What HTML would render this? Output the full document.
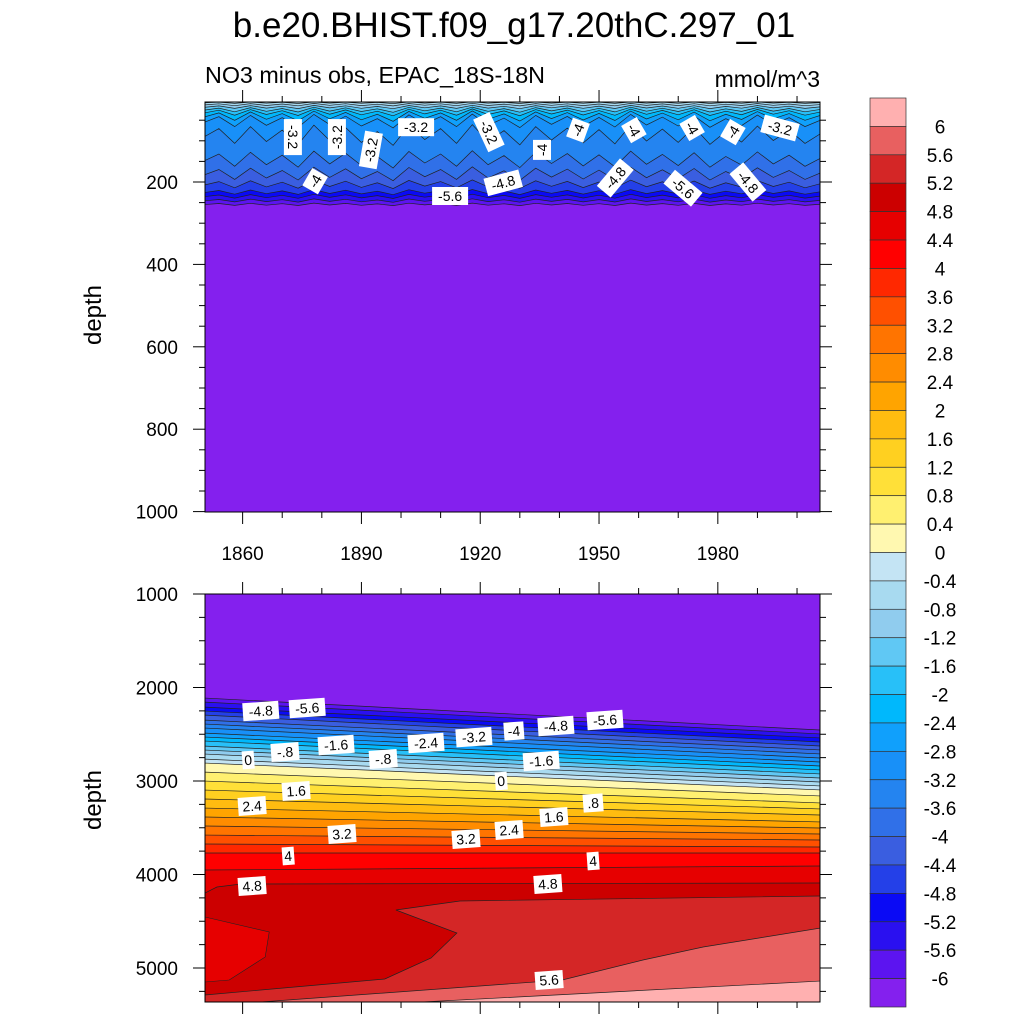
<!DOCTYPE html>
<html><head><meta charset="utf-8">
<style>
html,body{margin:0;padding:0;background:#fff;}
svg{display:block;font-family:"Liberation Sans",sans-serif;}
</style></head>
<body>
<svg id="chart" width="1024" height="1024" viewBox="0 0 1024 1024" xmlns="http://www.w3.org/2000/svg">
<text x="514" y="37" font-size="35" text-anchor="middle">b.e20.BHIST.f09_g17.20thC.297_01</text>
<text x="205" y="83" font-size="23" textLength="340" lengthAdjust="spacingAndGlyphs">NO3 minus obs, EPAC_18S-18N</text>
<text x="820" y="87" font-size="23" text-anchor="end">mmol/m^3</text>
<text transform="translate(101,315) rotate(-90)" font-size="24" text-anchor="middle">depth</text>
<text transform="translate(101,800) rotate(-90)" font-size="24" text-anchor="middle">depth</text>
<defs>
<clipPath id="clipTop"><rect x="205" y="102" width="615" height="410"/></clipPath>
<clipPath id="clipBot"><rect x="205" y="594" width="615" height="408"/></clipPath>
</defs>
<g id="topPlot" clip-path="url(#clipTop)"></g>
<g id="botPlot" clip-path="url(#clipBot)"></g>
<g id="labels"></g>
<g id="axes"></g>
<g id="cbar"></g>
</svg>
<script>
// ---- data ----
const levels = [-6,-5.6,-5.2,-4.8,-4.4,-4,-3.6,-3.2,-2.8,-2.4,-2,-1.6,-1.2,-0.8,-0.4,0,0.4,0.8,1.2,1.6,2,2.4,2.8,3.2,3.6,4,4.4,4.8,5.2,5.6,6];
const colors = ["#8420ee","#5c14f0","#2a10f0","#0a0af5","#2440e8","#3a5ee0","#3070e8","#2484f0","#1890f8","#10a0fc","#00b8fc","#28c0f8","#60c8f4","#90ccee","#a8daf0","#c4e4f4","#fff8b0","#fff070","#ffe038","#ffd020","#ffbc10","#ffa400","#ff8c00","#ff7400","#ff5000","#ff2800","#ff0000","#e60000","#cc0000","#d42626","#e86060","#ffb0b0"];
const cbarLabels = ["6","5.6","5.2","4.8","4.4","4","3.6","3.2","2.8","2.4","2","1.6","1.2","0.8","0.4","0","-0.4","-0.8","-1.2","-1.6","-2","-2.4","-2.8","-3.2","-3.6","-4","-4.4","-4.8","-5.2","-5.6","-6"];
const xTicks = [1860,1890,1920,1950,1980];
const topDepthTicks = [200,400,600,800,1000];
const botDepthTicks = [1000,2000,3000,4000,5000];
const topLevels = [-6,-5.6,-5.2,-4.8,-4.4,-4,-3.6,-3.2,-2.8,-2.4,-2,-1.6,-1.2,-0.8,-0.4];
const topBaseDepth = [255,246,236,226,208,184,150,92,56,43,33,26,19,13,8];
const topWiggleAmp = [0.15,0.2,0.25,0.3,0.5,0.8,1.0,1.2,0.8,0.6,0.4,0.3,0.2,0.15,0.1];
const wiggleYears = [1850,1854,1858,1862,1866,1870,1874,1878,1882,1886,1890,1894,1898,1902,1906,1910,1914,1918,1922,1926,1930,1934,1938,1942,1946,1950,1954,1958,1962,1966,1970,1974,1978,1982,1986,1990,1994,1998,2002,2006];
const wiggle = [0,-18,12,-22,8,-15,14,-25,6,-20,10,-12,16,-24,4,-18,12,-26,8,-14,15,-22,5,-19,11,-16,13,-25,7,-17,10,-21,14,-12,9,-23,6,-15,12,-8];
const botLevels = [-6,-5.6,-5.2,-4.8,-4.4,-4,-3.6,-3.2,-2.8,-2.4,-2,-1.6,-1.2,-0.8,-0.4,0,0.4,0.8,1.2,1.6,2,2.4,2.8,3.2,3.6,4,4.4];
const botDepthLeft = [2112,2155,2209,2251,2294,2348,2390,2433,2487,2529,2572,2626,2668,2711,2765,2807,2904,3000,3096,3192,3289,3385,3481,3578,3674,3770,3952];
const botDepthRight = [2455,2497,2540,2583,2626,2668,2711,2754,2797,2840,2882,2925,2968,3011,3053,3096,3160,3235,3299,3364,3438,3503,3567,3631,3706,3770,3909];
const c48Years = [1850.5,1853.5,1859.6,2006];
const c48Depth = [4198,4134,4102,4091];
const pocketYears = [1850.5,1866.7,1865.7,1856.6,1850.5];
const pocketDepth = [4454,4615,4882,5128,5150];
const c52Years = [1850.5,1895.9,1907.6,1914.1,1898.7,1914.9,2006];
const c52Depth = [5289,5118,4893,4626,4380,4283,4230];
const c56Years = [1864.6,1940.7,1961.1,1976.3,2006];
const c56Depth = [5364,5128,4914,4775,4572];
const c60Years = [1905.3,2006];
const c60Depth = [5364,5139];
const topLabelText = ["-3.2","-3.2","-3.2","-3.2","-3.2","-4","-4","-4","-4","-4","-3.2","-4","-5.6","-4.8","-4.8","-5.6","-4.8"];
const topLabelYear = [1872.7,1883.8,1892.4,1903.8,1922.2,1935.6,1944.7,1958.8,1973.5,1983.8,1995.7,1878.3,1912.4,1925.8,1954.1,1971.2,1987.6];
const topLabelDepth = [91,91,122,67,79,122,74,74,69,79,69,198,234,202,190,215,200];
const topLabelRot = [90,-90,-80,0,65,-90,-70,60,60,-60,15,-60,0,-15,-50,40,50];
const botLabelText = ["-4.8","-5.6","-1.6","-.8","0","-.8","-2.4","-3.2","-4","-4.8","-5.6","-1.6","0","1.6","2.4",".8","1.6","2.4","3.2","3.2","4","4","4.8","4.8","5.6"];
const botLabelYear = [1864.6,1876.3,1883.6,1870.7,1861.4,1895.5,1906.3,1918.4,1928.5,1939.1,1951.5,1935.4,1925.3,1873.5,1862.4,1948.5,1938.6,1927.3,1885.1,1916.4,1871.5,1948.5,1862.4,1937.1,1937.4];
const botLabelDepth = [2251,2219,2615,2690,2775,2765,2594,2530,2465,2412,2348,2786,3000,3107,3267,3235,3385,3524,3567,3620,3802,3856,4123,4102,5128];

// ---- scales ----
const X0=205, X1=820, YEAR0=1850.5, YEAR1=2005.8;
function xS(y){return X0+(y-YEAR0)*(X1-X0)/(YEAR1-YEAR0);}
function yT(d){return 99.6+d*0.412;}
function yB(d){return 594+(d-1000)/10.695;}
const NS="http://www.w3.org/2000/svg";
function mk(tag,attrs,parent){const e=document.createElementNS(NS,tag);for(const k in attrs)e.setAttribute(k,attrs[k]);if(parent)parent.appendChild(e);return e;}
function colorAbove(lv){return colors[levels.indexOf(lv)+1];}
function colorBelow(lv){return colors[levels.indexOf(lv)];}

// ---- top panel ----
const topG=document.getElementById('topPlot');
let r=mk('rect',{x:205,y:102,width:615,height:410,fill:colorAbove(-0.4)},topG);


function topLine(i){return wiggleYears.map((yr,k)=>[xS(yr),yT(topBaseDepth[i]+topWiggleAmp[i]*wiggle[k])]);}
for(let i=topLevels.length-1;i>=0;i--){
  const pts=topLine(i);
  const d='M'+pts.map(p=>p[0].toFixed(1)+','+p[1].toFixed(1)).join('L')+`L${xS(2006)},520L${xS(1850)},520Z`;
  const p=mk('path',{d:d,fill:colorBelow(topLevels[i])},topG);
  
  
}
for(let i=0;i<topLevels.length;i++){
  const pts=topLine(i);
  const p=mk('path',{d:'M'+pts.map(q=>q[0].toFixed(1)+','+q[1].toFixed(1)).join('L'),fill:'none',stroke:'#222',"stroke-width":0.7},topG);
  
  
}

// ---- bottom panel ----
const botG=document.getElementById('botPlot');
r=mk('rect',{x:205,y:594,width:615,height:408,fill:colors[0]},botG);


const BYL=1850, BYR=2006, BOTD=5400;
function polyBelow(yrs,deps,closeLeft){
  let pts=yrs.map((y,k)=>xS(y).toFixed(1)+','+yB(deps[k]).toFixed(1));
  return 'M'+pts.join('L')+`L${xS(BYR)},${yB(BOTD)}L${xS(closeLeft)},${yB(BOTD)}Z`;
}
for(let i=0;i<botLevels.length;i++){
  const p=mk('path',{d:polyBelow([BYL,BYR],[botDepthLeft[i],botDepthRight[i]],BYL),fill:colorAbove(botLevels[i])},botG);
  
  
}
const deep=[[c48Years,c48Depth,4.8],[c52Years,c52Depth,5.2],[c56Years,c56Depth,5.6],[c60Years,c60Depth,6]];
deep.forEach(([ys,ds,lv])=>{
  const p=mk('path',{d:polyBelow(ys,ds,ys[0]<1851?BYL:ys[0]),fill:colorAbove(lv)},botG);
  
  
  if(lv===4.8){
    const pk=mk('path',{d:'M'+pocketYears.map((y,k)=>xS(y).toFixed(1)+','+yB(pocketDepth[k]).toFixed(1)).join('L')+'Z',fill:colorAbove(4.4),stroke:'#222',"stroke-width":0.6},botG);
    
    
  }
});
for(let i=0;i<botLevels.length;i++){
  const l=mk('line',{x1:xS(BYL),y1:yB(botDepthLeft[i]),x2:xS(BYR),y2:yB(botDepthRight[i]),stroke:'#222',"stroke-width":0.7},botG);
  
  
}
deep.forEach(([ys,ds,lv])=>{
  const l=mk('path',{d:'M'+ys.map((y,k)=>xS(y).toFixed(1)+','+yB(ds[k]).toFixed(1)).join('L'),fill:'none',stroke:'#222',"stroke-width":0.7},botG);
  
  
});

// ---- contour labels ----
const labG=document.getElementById('labels');
function addLabel(txt,x,y,rot,name){
  const g=mk('g',{transform:`translate(${x.toFixed(1)},${y.toFixed(1)}) rotate(${rot})`},labG);
  
  
  const w=txt.length*8+4;
  mk('rect',{x:-w/2,y:-9,width:w,height:18,fill:'#fff'},g);
  mk('text',{x:0,y:5,"font-size":14,"text-anchor":"middle"},g).textContent=txt;
}
topLabelText.forEach((t,i)=>addLabel(t,xS(topLabelYear[i]),yT(topLabelDepth[i]),topLabelRot[i],'top-contour-label'));
botLabelText.forEach((t,i)=>addLabel(t,xS(botLabelYear[i]),yB(botLabelDepth[i]),-4,'bottom-contour-label'));

// ---- axes ----
const axG=document.getElementById('axes');
function frame(y0,h,name){const f=mk('rect',{x:205,y:y0,width:615,height:h,fill:'none',stroke:'#000',"stroke-width":1},axG);}
frame(102,410,'top-frame');frame(594,408,'bottom-frame');
function tick(x1,y1,x2,y2){const t=mk('line',{x1,y1,x2,y2,stroke:'#000',"stroke-width":1},axG);}
for(let yr=1860;yr<=2000;yr+=10){
  const x=xS(yr), len=(yr%30===0)?12:6;
  tick(x,512,x,512+len); tick(x,594,x,594-len); tick(x,1002,x,1002+len);
  tick(x,102,x,102-len);
}
xTicks.forEach(yr=>{const t=mk('text',{x:xS(yr),y:560,"font-size":19,"text-anchor":"middle"},axG);t.textContent=yr;});
for(let d=50;d<=1000;d+=50){const y=yT(d);if(y<102)continue;const len=(d%200===0)?12:6;tick(205,y,205-len,y);tick(820,y,820+len,y);}
topDepthTicks.forEach(d=>{const t=mk('text',{x:178,y:yT(d)+7,"font-size":19,"text-anchor":"end"},axG);t.textContent=d;});
for(let d=1000;d<=5350;d+=250){const y=yB(d);const len=(d%1000===0)?12:6;tick(205,y,205-len,y);tick(820,y,820+len,y);}
botDepthTicks.forEach(d=>{const t=mk('text',{x:178,y:yB(d)+7,"font-size":19,"text-anchor":"end"},axG);t.textContent=d;});

// ---- colorbar ----
const cbG=document.getElementById('cbar');
const CB0=98, CB1=1007, BH=(CB1-CB0)/colors.length;
colors.slice().reverse().forEach((c,i)=>{
  const b=mk('rect',{x:870,y:CB0+i*BH,width:36,height:BH,fill:c,stroke:'#333',"stroke-width":0.7},cbG);
  
  
});
cbarLabels.forEach((t,i)=>{
  const e=mk('text',{x:940,y:CB0+(i+1)*BH+7,"font-size":19,"text-anchor":"middle"},cbG);
  e.textContent=t;
  
  
});
</script>
</body></html>
